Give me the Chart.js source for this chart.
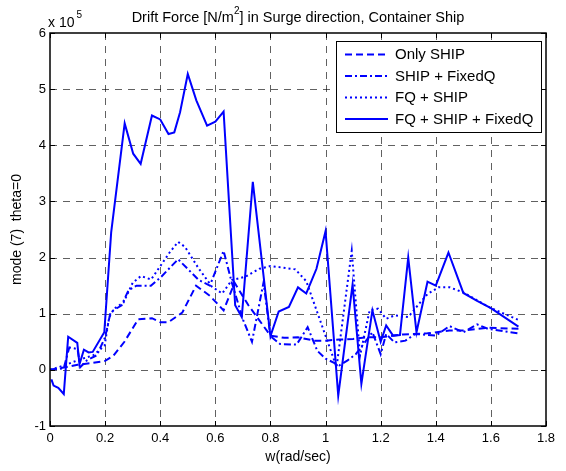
<!DOCTYPE html>
<html>
<head>
<meta charset="utf-8">
<script src="https://cdn.jsdelivr.net/npm/chart.js@4.4.1/dist/chart.umd.min.js"></script>
<style>
  html, body { margin: 0; padding: 0; background: #fff; }
  canvas { display: block; }
</style>
</head>
<body>
<canvas id="chart" width="566" height="471" style="width:566px;height:471px"></canvas>
<script>
const seriesNames = ['Only SHIP', 'SHIP + FixedQ', 'FQ + SHIP', 'FQ + SHIP + FixedQ'];

const onlyShipW = [0, 0.05, 0.1, 0.15, 0.2, 0.23, 0.27, 0.32, 0.37, 0.4, 0.43, 0.48, 0.53, 0.58, 0.63, 0.67, 0.72, 0.8, 0.85, 0.9, 0.96, 1.0, 1.05, 1.1, 1.15, 1.2, 1.28, 1.37, 1.45, 1.5, 1.59, 1.7];
const onlyShipF = [0, 0.04, 0.09, 0.12, 0.16, 0.25, 0.5, 0.9, 0.92, 0.85, 0.85, 1.02, 1.5, 1.32, 1.06, 1.55, 1.15, 0.61, 0.57, 0.58, 0.52, 0.52, 0.54, 0.55, 0.58, 0.58, 0.63, 0.65, 0.7, 0.7, 0.75, 0.73];

const shipFixedW = [0, 0.05, 0.07, 0.1, 0.11, 0.134, 0.17, 0.2, 0.22, 0.26, 0.285, 0.314, 0.366, 0.404, 0.465, 0.54, 0.58, 0.63, 0.66, 0.7, 0.733, 0.775, 0.8, 0.835, 0.895, 0.935, 0.97, 1.0, 1.05, 1.08, 1.11, 1.17, 1.2, 1.22, 1.25, 1.29, 1.325, 1.4, 1.45, 1.5, 1.55, 1.59, 1.7];
const shipFixedF = [0, 0.03, 0.4, 0.37, 0.05, 0.17, 0.26, 0.58, 1.03, 1.15, 1.42, 1.5, 1.5, 1.66, 1.97, 1.6, 1.5, 2.12, 1.55, 0.9, 0.5, 1.56, 0.6, 0.46, 0.45, 0.76, 0.34, 0.2, 0.08, 0.17, 0.28, 0.67, 0.28, 0.64, 0.49, 0.52, 0.64, 0.61, 0.78, 0.67, 0.81, 0.73, 0.65];

const fqShipW = [0, 0.052, 0.1, 0.157, 0.198, 0.215, 0.233, 0.267, 0.3, 0.33, 0.367, 0.434, 0.465, 0.49, 0.539, 0.588, 0.625, 0.66, 0.71, 0.76, 0.8, 0.89, 0.93, 1.04, 1.095, 1.125, 1.16, 1.19, 1.22, 1.25, 1.3, 1.34, 1.37, 1.41, 1.45, 1.5, 1.6, 1.7];
const fqShipF = [0, 0.08, 0.17, 0.26, 0.43, 0.94, 1.09, 1.2, 1.55, 1.67, 1.61, 2.09, 2.28, 2.19, 1.81, 1.48, 1.36, 1.6, 1.66, 1.8, 1.85, 1.79, 1.58, 0.05, 2.12, 0.25, 1.06, 1.09, 0.91, 0.97, 0.94, 1.18, 1.35, 1.47, 1.47, 1.38, 1.1, 0.89];

const allW = [0.005, 0.013, 0.03, 0.05, 0.066, 0.099, 0.107, 0.123, 0.14, 0.155, 0.197, 0.222, 0.271, 0.302, 0.329, 0.37, 0.4, 0.43, 0.451, 0.472, 0.5, 0.531, 0.57, 0.6, 0.63, 0.672, 0.696, 0.736, 0.8, 0.83, 0.867, 0.9, 0.93, 0.967, 1.0, 1.046, 1.098, 1.13, 1.17, 1.2, 1.22, 1.245, 1.27, 1.3, 1.33, 1.37, 1.4, 1.446, 1.5, 1.55, 1.6, 1.7];
const allF = [-0.17, -0.28, -0.32, -0.43, 0.59, 0.48, 0.1, 0.36, 0.31, 0.32, 0.67, 2.45, 4.39, 3.85, 3.67, 4.53, 4.46, 4.2, 4.23, 4.59, 5.27, 4.8, 4.35, 4.42, 4.6, 1.15, 0.94, 3.35, 0.6, 1.04, 1.12, 1.47, 1.36, 1.8, 2.47, -0.46, 1.52, -0.25, 1.06, 0.5, 0.79, 0.61, 0.62, 2.0, 0.67, 1.57, 1.5, 2.09, 1.37, 1.23, 1.1, 0.77];

const xTicks = [0, 0.2, 0.4, 0.6, 0.8, 1, 1.2, 1.4, 1.6, 1.8];
const yTicks = [-1, 0, 1, 2, 3, 4, 5, 6];

const BLUE = '#0000ff';
const FONT = 'Liberation Sans, Arial, sans-serif';
const lineDashes = [[7, 4], [7, 3, 2, 3], [2, 3], []];

function toPoints(ws, fs) {
    return ws.map((w, i) => ({ x: w, y: fs[i] }));
}

// Gitter, Rahmen, Legende und Texte im MATLAB-Stil
const matlabStyle = {
    id: 'matlabStyle',
    beforeDatasetsDraw(chart) {
        const { ctx, chartArea: a, scales: { x, y } } = chart;
        ctx.save();
        ctx.strokeStyle = 'rgba(0,0,0,0.62)';
        ctx.lineWidth = 1;
        ctx.setLineDash([7, 6]);
        xTicks.slice(1, -1).forEach(v => {
            const px = Math.round(x.getPixelForValue(v)) + 0.5;
            ctx.beginPath(); ctx.moveTo(px, a.top); ctx.lineTo(px, a.bottom); ctx.stroke();
        });
        yTicks.slice(1, -1).forEach(v => {
            const py = Math.round(y.getPixelForValue(v)) + 0.5;
            ctx.beginPath(); ctx.moveTo(a.left, py); ctx.lineTo(a.right, py); ctx.stroke();
        });
        ctx.restore();
    },
    afterDatasetsDraw(chart) {
        const { ctx, chartArea: a, scales: { x, y } } = chart;
        ctx.save();
        // Tick-Striche innen
        ctx.strokeStyle = '#000';
        ctx.lineWidth = 1;
        xTicks.forEach(v => {
            const px = Math.round(x.getPixelForValue(v)) + 0.5;
            ctx.beginPath();
            ctx.moveTo(px, a.top); ctx.lineTo(px, a.top + 5);
            ctx.moveTo(px, a.bottom); ctx.lineTo(px, a.bottom - 5);
            ctx.stroke();
        });
        yTicks.forEach(v => {
            const py = Math.round(y.getPixelForValue(v)) + 0.5;
            ctx.beginPath();
            ctx.moveTo(a.left, py); ctx.lineTo(a.left + 5, py);
            ctx.moveTo(a.right, py); ctx.lineTo(a.right - 5, py);
            ctx.stroke();
        });
        ctx.lineWidth = 1.5;
        ctx.strokeRect(a.left, a.top, a.right - a.left, a.bottom - a.top);

        // Legende
        const lx = 336, ly = 41, lw = 205, lh = 91;
        ctx.fillStyle = '#fff';
        ctx.fillRect(lx, ly, lw, lh);
        ctx.lineWidth = 1;
        ctx.strokeStyle = '#000';
        ctx.strokeRect(lx + 0.5, ly + 0.5, lw, lh);
        ctx.font = '15px ' + FONT;
        ctx.textBaseline = 'middle';
        seriesNames.forEach((name, i) => {
            const ry = ly + 13.5 + i * 21.5;
            ctx.strokeStyle = BLUE;
            ctx.lineWidth = 2;
            ctx.setLineDash(lineDashes[i]);
            ctx.beginPath(); ctx.moveTo(345, ry); ctx.lineTo(388, ry); ctx.stroke();
            ctx.setLineDash([]);
            ctx.fillStyle = '#000';
            ctx.fillText(name, 395, ry + 0.5);
        });
        ctx.restore();
    },
    afterDraw(chart) {
        const { ctx, chartArea: a } = chart;
        ctx.save();
        ctx.fillStyle = '#000';
        ctx.textBaseline = 'alphabetic';

        // Titel mit Hochzahl
        const t1 = 'Drift Force [N/m', t2 = '2', t3 = '] in Surge direction, Container Ship';
        ctx.font = '14.5px ' + FONT;
        const w1 = ctx.measureText(t1).width, w3 = ctx.measureText(t3).width;
        ctx.font = '10px ' + FONT;
        const w2 = ctx.measureText(t2).width;
        let tx = (a.left + a.right) / 2 - (w1 + w2 + w3) / 2;
        ctx.font = '14.5px ' + FONT;
        ctx.fillText(t1, tx, 22);
        ctx.font = '10px ' + FONT;
        ctx.fillText(t2, tx + w1, 14);
        ctx.font = '14.5px ' + FONT;
        ctx.fillText(t3, tx + w1 + w2, 22);

        // Exponent
        ctx.font = '14px ' + FONT;
        ctx.fillText('x 10', a.left - 2, 27);
        const wx = ctx.measureText('x 10').width;
        ctx.font = '10px ' + FONT;
        ctx.fillText('5', a.left + wx, 18);

        // Achsenbeschriftungen
        ctx.font = '14px ' + FONT;
        ctx.textAlign = 'center';
        ctx.textBaseline = 'middle';
        ctx.fillText('w(rad/sec)', (a.left + a.right) / 2, 457);
        ctx.translate(17, (a.top + a.bottom) / 2);
        ctx.rotate(-Math.PI / 2);
        ctx.fillText('mode (7)  theta=0', 0, 0);
        ctx.restore();
    }
};

const datasets = [
    [onlyShipW, onlyShipF],
    [shipFixedW, shipFixedF],
    [fqShipW, fqShipF],
    [allW, allF]
].map(([ws, fs], i) => ({
    label: seriesNames[i],
    data: toPoints(ws, fs),
    borderColor: BLUE,
    borderWidth: 2,
    borderDash: lineDashes[i],
    pointRadius: 0,
    tension: 0,
    fill: false
}));

const tickFont = { family: FONT, size: 13 };

new Chart(document.getElementById('chart'), {
    type: 'line',
    data: { datasets },
    plugins: [matlabStyle],
    options: {
        responsive: false,
        animation: false,
        devicePixelRatio: 1,
        layout: { padding: { top: 33, right: 20, left: 0, bottom: 0 } },
        plugins: { legend: { display: false }, tooltip: { enabled: false } },
        scales: {
            x: {
                type: 'linear',
                min: 0,
                max: 1.8,
                afterBuildTicks: s => { s.ticks = xTicks.map(v => ({ value: v })); },
                afterFit: s => { s.height = 45; },
                ticks: {
                    font: tickFont,
                    color: '#000',
                    padding: 5,
                    maxRotation: 0,
                    autoSkip: false,
                    callback: v => String(Math.round(v * 10) / 10)
                },
                grid: { display: false, drawTicks: false },
                border: { display: false }
            },
            y: {
                type: 'linear',
                min: -1,
                max: 6,
                afterBuildTicks: s => { s.ticks = yTicks.map(v => ({ value: v })); },
                afterFit: s => { s.width = 50; },
                ticks: { font: tickFont, color: '#000', padding: 4 },
                grid: { display: false, drawTicks: false },
                border: { display: false }
            }
        }
    }
});
</script>
</body>
</html>
